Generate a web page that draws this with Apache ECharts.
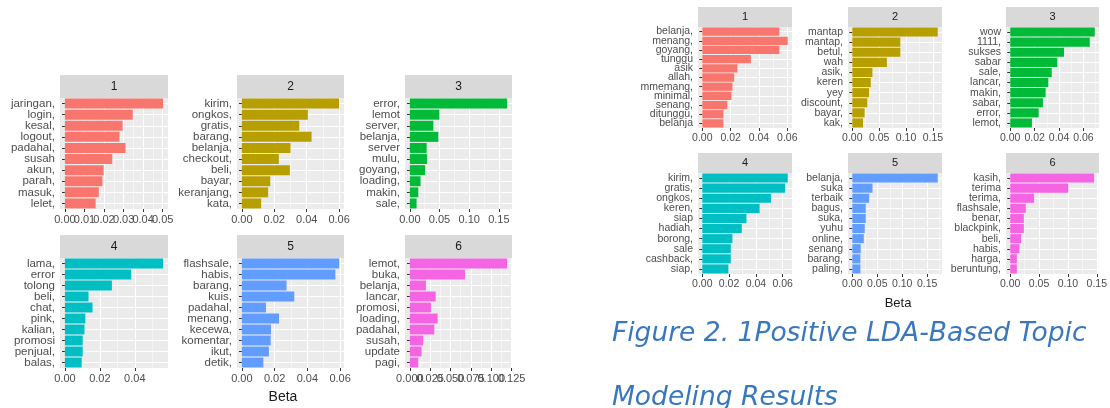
<!DOCTYPE html>
<html><head><meta charset="utf-8">
<script src="https://cdn.jsdelivr.net/npm/echarts@6/dist/echarts.min.js"></script>
<style>html,body{margin:0;padding:0;background:#fff}#chart{width:1110px;height:408px}</style>
</head><body><div id="chart"></div>
<script>
// ---------- DATA ----------
const topicLabels = ['1', '2', '3', '4', '5', '6'];
const hueColors = ['#F8766D', '#B79F00', '#00BA38', '#00BFC4', '#619CFF', '#F564E3'];

// Left figure
const leftTerms1 = ['jaringan,', 'login,', 'kesal,', 'logout,', 'padahal,', 'susah', 'akun,', 'parah,', 'masuk,', 'lelet,'];
const leftBeta1 = [0.0502, 0.0347, 0.0295, 0.0279, 0.0310, 0.0242, 0.0198, 0.0192, 0.0173, 0.0157];
const leftTerms2 = ['kirim,', 'ongkos,', 'gratis,', 'barang,', 'belanja,', 'checkout,', 'beli,', 'bayar,', 'keranjang,', 'kata,'];
const leftBeta2 = [0.0600, 0.0407, 0.0354, 0.0430, 0.0300, 0.0228, 0.0296, 0.0175, 0.0162, 0.0119];
const leftTerms3 = ['error,', 'lemot', 'server,', 'belanja,', 'server', 'mulu,', 'goyang,', 'loading,', 'makin,', 'sale,'];
const leftBeta3 = [0.164, 0.0498, 0.0396, 0.0480, 0.0283, 0.0289, 0.0255, 0.0180, 0.0142, 0.0113];
const leftTerms4 = ['lama,', 'error', 'tolong', 'beli,', 'chat,', 'pink,', 'kalian,', 'promosi', 'penjual,', 'balas,'];
const leftBeta4 = [0.0562, 0.0379, 0.0269, 0.0135, 0.0158, 0.0117, 0.0112, 0.0102, 0.0102, 0.0096];
const leftTerms5 = ['flashsale,', 'habis,', 'barang,', 'kuis,', 'padahal,', 'menang,', 'kecewa,', 'komentar,', 'ikut,', 'detik,'];
const leftBeta5 = [0.0594, 0.0571, 0.0273, 0.0320, 0.0147, 0.0227, 0.0178, 0.0176, 0.0165, 0.0131];
const leftTerms6 = ['lemot,', 'buka,', 'belanja,', 'lancar,', 'promosi,', 'loading,', 'padahal,', 'susah,', 'update', 'pagi,'];
const leftBeta6 = [0.1195, 0.0678, 0.0197, 0.0317, 0.0259, 0.0341, 0.0300, 0.0164, 0.0144, 0.0103];
const leftTickSteps = [0.01, 0.02, 0.05, 0.02, 0.02, 0.025];
const leftTickDecimals = [2, 2, 2, 2, 2, 3];

// Right figure
const rightTerms1 = ['belanja,', 'menang,', 'goyang,', 'tunggu', 'asik', 'allah,', 'mmemang,', 'minimal,', 'senang,', 'ditunggu,', 'belanja'];
const rightBeta1 = [0.0544, 0.0603, 0.0544, 0.0343, 0.0248, 0.0225, 0.0213, 0.0206, 0.0177, 0.0149, 0.0149];
const rightTerms2 = ['mantap', 'mantap,', 'betul,', 'wah', 'asik,', 'keren', 'yey', 'discount,', 'bayar,', 'kak,'];
const rightBeta2 = [0.159, 0.0894, 0.0894, 0.0644, 0.0375, 0.0344, 0.0312, 0.0280, 0.0230, 0.0200];
const rightTerms3 = ['wow', '1111,', 'sukses', 'sabar', 'sale,', 'lancar,', 'makin,', 'sabar,', 'error,', 'lemot,'];
const rightBeta3 = [0.0693, 0.0652, 0.0441, 0.0386, 0.0340, 0.0312, 0.0290, 0.0268, 0.0233, 0.0178];
const rightTerms4 = ['kirim,', 'gratis,', 'ongkos,', 'keren,', 'siap', 'hadiah,', 'borong,', 'sale', 'cashback,', 'siap,'];
const rightBeta4 = [0.0638, 0.0618, 0.0513, 0.0428, 0.0330, 0.0295, 0.0225, 0.0213, 0.0213, 0.0195];
const rightTerms5 = ['belanja,', 'suka', 'terbaik', 'bagus,', 'suka,', 'yuhu', 'online,', 'senang', 'barang,', 'paling,'];
const rightBeta5 = [0.171, 0.0405, 0.0338, 0.0270, 0.0270, 0.0250, 0.0230, 0.0169, 0.0162, 0.0162];
const rightTerms6 = ['kasih,', 'terima', 'terima,', 'flashsale,', 'benar,', 'blackpink,', 'beli,', 'habis,', 'harga,', 'beruntung,'];
const rightBeta6 = [0.1454, 0.1006, 0.0414, 0.0270, 0.0236, 0.0236, 0.0190, 0.0161, 0.0115, 0.0115];
const rightTickSteps = [0.02, 0.05, 0.02, 0.02, 0.05, 0.05];
const rightTickDecimals = [2, 2, 2, 2, 2, 2];

const axisTitle = 'Beta';
const captionLine1 = 'Figure 2. 1Positive LDA-Based Topic';
const captionLine2 = 'Modeling Results';

// ---------- LAYOUT ----------
const L_COLS = [[60, 168], [237, 344], [405, 512]];
const L_ROWS = [{ strip: 75, top: 98, bottom: 209 }, { strip: 235, top: 258, bottom: 368 }];
const R_COLS = [[698, 792], [848, 942], [1006, 1099]];
const R_ROWS = [{ strip: 7, top: 27, bottom: 128 }, { strip: 153, top: 173, bottom: 274 }];

const FONT = 'Liberation Sans, Arial, sans-serif';
const grids = [], xAxes = [], yAxes = [], series = [], graphics = [];

function addPanel(terms, betas, color, label, col, row, step, dec, labelSize, tickSize) {
  const gi = grids.length;
  const maxV = Math.max.apply(null, betas);
  const lo = -0.05 * maxV, hi = 1.05 * maxV;
  const majors = [], minors = [];
  for (let k = 0; k * step <= hi + 1e-12; k++) majors.push(+(k * step).toFixed(6));
  for (let k = 0; (k + 0.5) * step <= hi; k++) minors.push(+((k + 0.5) * step).toFixed(6));
  const evenLabels = majors.filter((v, i) => i % 2 === 0);
  const oddLabels = majors.filter((v, i) => i % 2 === 1);
  const labelStyle = { formatter: v => v.toFixed(dec), fontSize: tickSize, color: '#4D4D4D', margin: 5,
    fontFamily: FONT, showMinLabel: true, showMaxLabel: true, hideOverlap: false };
  grids.push({ left: col[0], top: row.top, width: col[1] - col[0], height: row.bottom - row.top,
    show: true, backgroundColor: '#EBEBEB', borderWidth: 0, containLabel: false });
  // major axis: ticks, major grid lines, every other label
  xAxes.push({ type: 'value', gridIndex: gi, position: 'bottom', min: lo, max: hi,
    axisLine: { show: false },
    axisTick: { show: true, customValues: majors, length: 3, lineStyle: { color: '#333', width: 1 } },
    axisLabel: Object.assign({ customValues: evenLabels }, labelStyle),
    splitLine: { show: true, lineStyle: { color: '#FFFFFF', width: 1 } } });
  // minor grid lines
  xAxes.push({ type: 'value', gridIndex: gi, position: 'top', min: lo, max: hi,
    axisLine: { show: false },
    axisTick: { show: false, customValues: minors },
    axisLabel: { show: false, customValues: minors },
    splitLine: { show: true, lineStyle: { color: '#FFFFFF', width: 0.5 } } });
  // remaining labels (drawn on an overlaid bottom axis so overlapping labels are all kept)
  xAxes.push({ type: 'value', gridIndex: gi, position: 'bottom', offset: 0, min: lo, max: hi,
    axisLine: { show: false },
    axisTick: { show: false, customValues: oddLabels.length ? oddLabels : [0] },
    axisLabel: Object.assign({ customValues: oddLabels, show: oddLabels.length > 0 }, labelStyle),
    splitLine: { show: false } });
  yAxes.push({ type: 'category', gridIndex: gi, data: terms, inverse: true,
    axisLine: { show: false },
    axisTick: { show: true, alignWithLabel: true, interval: 0, length: 3, lineStyle: { color: '#333', width: 1 } },
    axisLabel: { interval: 0, fontSize: labelSize, color: '#4D4D4D', margin: 5, fontFamily: FONT, lineHeight: labelSize,
      hideOverlap: false },
    splitLine: { show: true, interval: 0, alignWithLabel: true, lineStyle: { color: '#FFFFFF', width: 1 } } });
  series.push({ type: 'bar', xAxisIndex: gi * 3, yAxisIndex: gi, data: betas,
    barCategoryGap: '10%', itemStyle: { color: color }, silent: true, animation: false });
  graphics.push({ type: 'rect', shape: { x: col[0], y: row.strip, width: col[1] - col[0], height: row.top - row.strip },
    style: { fill: '#D9D9D9' }, silent: true });
  graphics.push({ type: 'text', x: (col[0] + col[1]) / 2, y: (row.strip + row.top) / 2,
    style: { text: label, align: 'center', verticalAlign: 'middle', fontSize: labelSize + 0.5, fontFamily: FONT, fill: '#1A1A1A' }, silent: true });
}

const leftTerms = [leftTerms1, leftTerms2, leftTerms3, leftTerms4, leftTerms5, leftTerms6];
const leftBetas = [leftBeta1, leftBeta2, leftBeta3, leftBeta4, leftBeta5, leftBeta6];
const rightTerms = [rightTerms1, rightTerms2, rightTerms3, rightTerms4, rightTerms5, rightTerms6];
const rightBetas = [rightBeta1, rightBeta2, rightBeta3, rightBeta4, rightBeta5, rightBeta6];

for (let i = 0; i < 6; i++) {
  addPanel(leftTerms[i], leftBetas[i], hueColors[i], topicLabels[i], L_COLS[i % 3], L_ROWS[Math.floor(i / 3)],
    leftTickSteps[i], leftTickDecimals[i], 11.5, 11);
}
for (let i = 0; i < 6; i++) {
  addPanel(rightTerms[i], rightBetas[i], hueColors[i], topicLabels[i], R_COLS[i % 3], R_ROWS[Math.floor(i / 3)],
    rightTickSteps[i], rightTickDecimals[i], 10.5, 10.5);
}

graphics.push({ type: 'text', x: 283, y: 397, style: { text: axisTitle, align: 'center', verticalAlign: 'middle', fontSize: 14, fontFamily: FONT, fill: '#1A1A1A' }, silent: true });
graphics.push({ type: 'text', x: 898, y: 303, style: { text: axisTitle, align: 'center', verticalAlign: 'middle', fontSize: 13, fontFamily: FONT, fill: '#1A1A1A' }, silent: true });
graphics.push({ type: 'text', x: 612, y: 334, style: { text: captionLine1, align: 'left', verticalAlign: 'middle', fontSize: 26.5, fontStyle: 'italic', fontFamily: 'DejaVu Sans', fill: '#3A78BE' }, silent: true });
graphics.push({ type: 'text', x: 612, y: 398, style: { text: captionLine2, align: 'left', verticalAlign: 'middle', fontSize: 26.5, fontStyle: 'italic', fontFamily: 'DejaVu Sans', fill: '#3A78BE' }, silent: true });

const chart = echarts.init(document.getElementById('chart'), null, { renderer: 'canvas' });
chart.setOption({
  animation: false,
  backgroundColor: '#FFFFFF',
  textStyle: { fontFamily: FONT },
  grid: grids, xAxis: xAxes, yAxis: yAxes, series: series,
  graphic: { elements: graphics }
});
</script></body></html>
